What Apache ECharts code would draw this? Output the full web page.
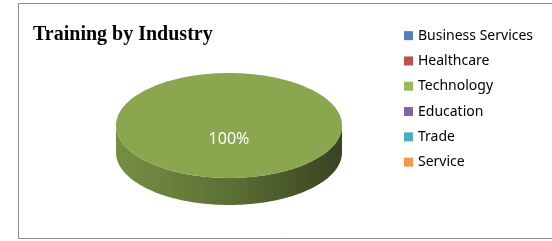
<!DOCTYPE html>
<html>
<head>
<meta charset="utf-8">
<script src="https://cdn.jsdelivr.net/npm/echarts@6/dist/echarts.min.js"></script>
<style>
  html, body { margin: 0; padding: 0; background: #fff; }
  #pie3d { width: 552px; height: 241px; }
</style>
</head>
<body>
<div id="pie3d"></div>
<script>
  // data
  const industries = ['Business Services', 'Healthcare', 'Technology', 'Education', 'Trade', 'Service'];
  const trainings = [0, 0, 100, 0, 0, 0];
  const palette = ['#4F81BD', '#C0504D', '#9BBB59', '#8064A2', '#4BACC6', '#F79646'];

  // layout of the tilted pie
  const cx = 229, cy = 125.5, rx = 113, ry = 52.5, depth = 27;

  function shade(hex, f) {
    const n = parseInt(hex.slice(1), 16);
    const r = Math.round(((n >> 16) & 255) * f);
    const g = Math.round(((n >> 8) & 255) * f);
    const b = Math.round((n & 255) * f);
    return 'rgb(' + r + ',' + g + ',' + b + ')';
  }

  function arcPts(t0, t1, dy) {
    const pts = [];
    const steps = Math.max(2, Math.ceil(160 * (t1 - t0) / (2 * Math.PI)));
    for (let s = 0; s <= steps; s++) {
      const t = t0 + (t1 - t0) * s / steps;
      pts.push([cx + rx * Math.sin(t), cy - ry * Math.cos(t) + dy]);
    }
    return pts;
  }

  const chart = echarts.init(document.getElementById('pie3d'));
  const total = trainings.reduce((a, b) => a + b, 0);

  const option = {
    color: palette,
    animation: false,
    title: {
      text: 'Training by Industry',
      left: 33,
      top: 25,
      padding: 0,
      textStyle: {
        fontFamily: 'Liberation Serif',
        fontWeight: 'bold',
        fontSize: 20,
        color: '#000'
      }
    },
    legend: {
      orient: 'vertical',
      left: 404,
      top: 28,
      padding: 0,
      itemWidth: 9,
      itemHeight: 9,
      itemGap: 10,
      icon: 'rect',
      data: industries,
      textStyle: {
        fontFamily: 'Noto Sans',
        fontSize: 14,
        lineHeight: 15.3,
        color: '#000'
      }
    },
    graphic: [{
      type: 'rect',
      shape: { x: 18.5, y: 3.5, width: 600, height: 235 },
      style: { fill: 'none', stroke: '#8c8c8c', lineWidth: 1 },
      silent: true
    }],
    series: [
      {
        // only feeds the legend
        type: 'pie',
        center: [-200, -200],
        radius: [0, 1],
        silent: true,
        label: { show: false },
        labelLine: { show: false },
        data: industries.map((n, i) => ({ name: n, value: trainings[i] }))
      },
      {
        type: 'custom',
        coordinateSystem: 'none',
        data: trainings.map(v => [v]),
        renderItem: function (params, api) {
          const i = params.dataIndex;
          const v = api.value(0);
          if (!v) return;
          let start = 0;
          for (let k = 0; k < i; k++) start += trainings[k];
          const a0 = start / total * 2 * Math.PI;
          const a1 = (start + v) / total * 2 * Math.PI;
          const col = palette[i];
          const children = [];

          // front wall, lighter on the left
          const f0 = Math.max(a0, Math.PI / 2), f1 = Math.min(a1, Math.PI * 1.5);
          if (f1 > f0) {
            const top = arcPts(f0, f1, 0);
            const bot = arcPts(f0, f1, depth).reverse();
            children.push({
              type: 'polygon',
              z2: 1,
              shape: { points: top.concat(bot) },
              style: {
                fill: new echarts.graphic.LinearGradient(0, 0, 1, 0, [
                  { offset: 0, color: shade(col, 0.76) },
                  { offset: 0.5, color: shade(col, 0.6) },
                  { offset: 1, color: shade(col, 0.36) }
                ])
              }
            });
          }

          // top face
          const pts = arcPts(a0, a1, 0);
          if (a1 - a0 < 2 * Math.PI - 1e-6) pts.unshift([cx, cy]);
          children.push({
            type: 'polygon',
            z2: 10,
            shape: { points: pts },
            style: { fill: shade(col, 0.89) }
          });

          // percentage label
          const mid = (a0 + a1) / 2;
          const lr = (a1 - a0 >= 2 * Math.PI - 1e-6) ? 0 : 0.6;
          children.push({
            type: 'text',
            z2: 20,
            x: cx + rx * lr * Math.sin(mid),
            y: cy - ry * lr * Math.cos(mid) + (lr ? 0 : ry * 0.26),
            style: {
              text: Math.round(v / total * 100) + '%',
              fill: '#fff',
              font: '16px "Noto Sans"',
              align: 'center',
              verticalAlign: 'middle'
            }
          });

          return { type: 'group', children: children };
        }
      }
    ]
  };

  chart.setOption(option);
</script>
</body>
</html>
